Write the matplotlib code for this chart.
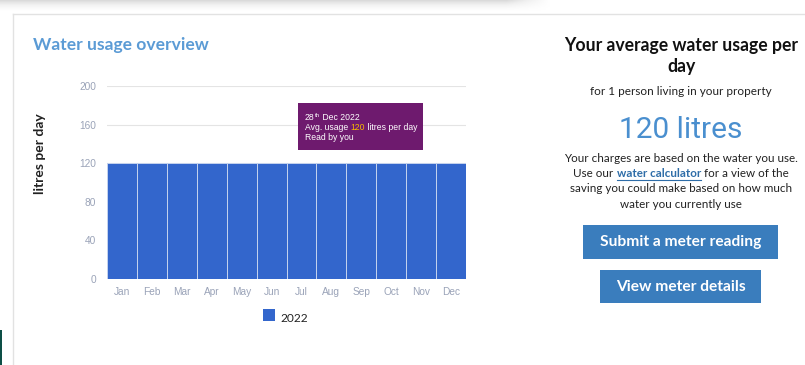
import numpy as np
import matplotlib
matplotlib.use('Agg')
import matplotlib.pyplot as plt
from matplotlib.patches import Rectangle

# Monthly average usage (litres per day) for 2022
months = ['Jan', 'Feb', 'Mar', 'Apr', 'May', 'Jun',
          'Jul', 'Aug', 'Sep', 'Oct', 'Nov', 'Dec']
usage = [120, 120, 120, 120, 120, 120, 120, 120, 120, 120, 120, 120]
yticks = [0, 40, 80, 120, 160, 200]
series_name = '2022'
avg_litres = 120

W, H = 805, 365
fig = plt.figure(figsize=(W / 100, H / 100), dpi=100)
fig.patch.set_facecolor('white')

bar_blue = '#3366cc'
tick_grey = '#9aa3b8'

# --- bar chart ---
ax = fig.add_axes([107 / W, 1 - 279 / H, (466 - 107) / W, (279 - 86) / H])
x = np.arange(len(months))
ax.bar(x, usage, width=1.0, color=bar_blue, edgecolor='#c5d3ee', linewidth=0.7, zorder=3)
ax.set_xlim(-0.5, 11.5)
ax.set_ylim(0, 200)
ax.set_yticks(yticks)
ax.set_yticklabels([str(v) for v in yticks])
ax.set_xticks(x)
ax.set_xticklabels(months)
ax.tick_params(length=0, labelsize=7.3, labelcolor=tick_grey, pad=6)
ax.tick_params(axis='y', pad=8)
for lab in ax.get_xticklabels() + ax.get_yticklabels():
    lab.set_fontfamily('Liberation Sans')
ax.grid(axis='y', color='#e4e4e4', linewidth=0.8, zorder=0)
for s in ax.spines.values():
    s.set_visible(False)
ax.set_facecolor('none')

# overlay in pixel coordinates for the page furniture
ov = fig.add_axes([0, 0, 1, 1], zorder=5)
ov.set_xlim(0, W)
ov.set_ylim(H, 0)
ov.axis('off')
ov.patch.set_alpha(0)

renderer = fig.canvas.get_renderer()


def text_width(s, **kw):
    # '|' appended so trailing spaces count in the advance
    def w(txt):
        t = ov.text(0, 0, txt, **kw)
        bb = t.get_window_extent(renderer=renderer)
        t.remove()
        return bb.width
    return w(s + '|') - w('|')


def pieces(x0, y, parts, centre=False, **kw):
    # parts: list of (text, extra kwargs, vertical shift); drawn on one baseline
    opts = [{**kw, **k} for p, k, d in parts]
    widths = [text_width(p, **o) for (p, k, d), o in zip(parts, opts)]
    if centre:
        x0 = x0 - sum(widths) / 2
    xs = x0
    out = []
    for (p, k, d), o, w in zip(parts, opts, widths):
        ov.text(xs, y + d, p, ha='left', va='baseline', **o)
        out.append((xs, w))
        xs += w
    return out


# top shadow strip
yy = np.linspace(0, 1, 20)[:, None]
xx = np.linspace(0, 1, 300)[None, :]
shade = (1 - yy) ** 1.5 * np.clip((1 - xx) / 0.08, 0, 1)
ov.imshow(shade, extent=[0, 550, 12, 0], cmap='Greys', vmin=0, vmax=4,
          aspect='auto', interpolation='bilinear', zorder=0)

# card border
ov.plot([13, W], [14, 14], color='#e2e2e2', lw=1)
ov.plot([13, 13], [14, H], color='#e2e2e2', lw=1)
ov.add_patch(Rectangle((0, 330), 2, 35, color='#0d4f46', lw=0))

# chart title and axis label
ov.text(33, 50, 'Water usage overview', fontsize=12.6, fontweight='bold',
        color='#5b9bd5', family='Lato', va='baseline')
ov.text(40, 154, 'litres per day', rotation=90, fontsize=10, fontweight='bold',
        color='#222222', family='Lato', ha='center', va='center')

# legend
ov.add_patch(Rectangle((263, 309), 12, 12, color=bar_blue, lw=0))
ov.text(280, 322, series_name, fontsize=8.6, color='#222222', family='Lato', va='baseline')

# tooltip on December
ov.add_patch(Rectangle((298, 103), 125, 47, color='#6e1a6e', lw=0, zorder=6))
tip = dict(fontsize=6.2, color='white', family='Liberation Sans', zorder=7)
pieces(305, 120, [('28', {}, 0), ('th', {'fontsize': 4.2}, -3), (' Dec 2022', {}, 0)], **tip)
pieces(305, 130, [('Avg. usage ', {}, 0), (str(avg_litres), {'color': '#f5b800'}, 0),
                  (' litres per day', {}, 0)], **tip)
ov.text(305, 140, 'Read by you', ha='left', va='baseline', **tip)

# right-hand summary panel
cx = 681
ov.text(cx, 51, 'Your average water usage per', ha='center', va='baseline',
        fontsize=12.7, fontweight='bold', color='#111111', family='Lato')
ov.text(cx, 72, 'day', ha='center', va='baseline',
        fontsize=12.7, fontweight='bold', color='#111111', family='Lato')
ov.text(cx, 95, 'for 1 person living in your property', ha='center', va='baseline',
        fontsize=8.5, color='#222222', family='Lato')
ov.text(cx, 138, f'{avg_litres} litres', ha='center', va='baseline',
        fontsize=21.5, color='#4a8fcf', family='Roboto')

body = dict(fontsize=8.4, color='#222222', family='Lato')
ov.text(cx, 162, 'Your charges are based on the water you use.', ha='center',
        va='baseline', **body)
link = pieces(cx, 177, [('Use our ', {}, 0),
                        ('water calculator', {'fontweight': 'bold', 'color': '#2e6da8'}, 0),
                        (' for a view of the', {}, 0)], centre=True, **body)
lx, lw = link[1]
ov.plot([lx, lx + lw], [179.5, 179.5], color='#2e6da8', lw=0.8)
ov.text(cx, 192, 'saving you could make based on how much', ha='center',
        va='baseline', **body)
ov.text(cx, 208, 'water you currently use', ha='center', va='baseline', **body)

# buttons
btn_blue = '#3a7dbd'
ov.add_patch(Rectangle((583, 225), 195, 34, color=btn_blue, lw=0))
ov.text(680.5, 242, 'Submit a meter reading', ha='center', va='center',
        fontsize=11.2, fontweight='bold', color='white', family='Lato')
ov.add_patch(Rectangle((600, 270), 161, 33, color=btn_blue, lw=0))
ov.text(680.5, 287, 'View meter details', ha='center', va='center',
        fontsize=11.2, fontweight='bold', color='white', family='Lato')

fig.savefig('out.png', dpi=100, facecolor='white')
